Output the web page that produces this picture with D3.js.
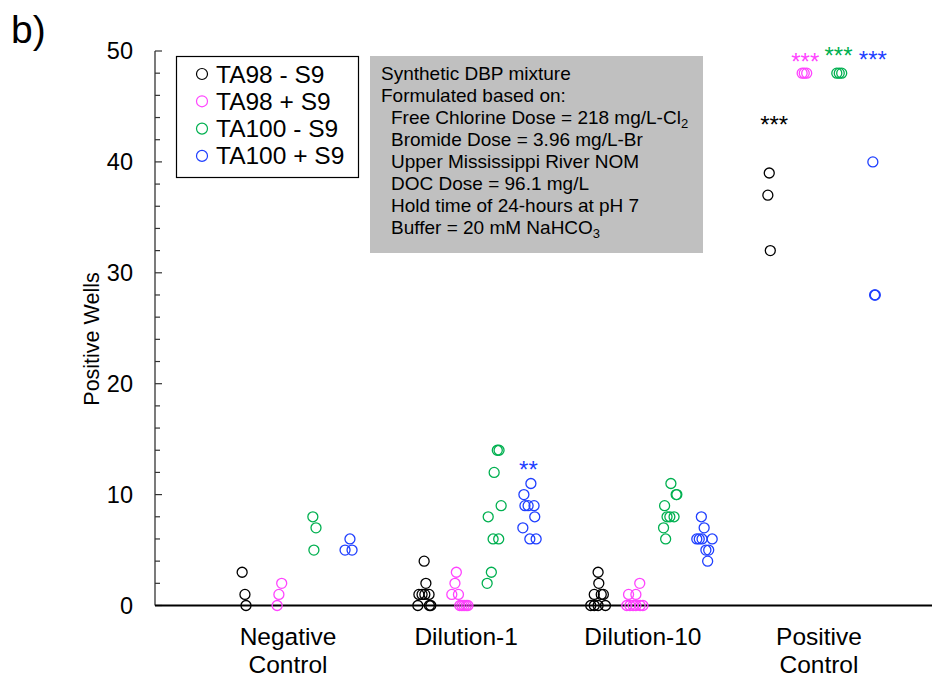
<!DOCTYPE html>
<html>
<head>
<meta charset="utf-8">
<script src="https://cdn.jsdelivr.net/npm/d3@7"></script>
<style>
  html, body { margin: 0; padding: 0; background: #fff; }
  svg { display: block; font-family: "Liberation Sans", Arial, sans-serif; }
</style>
</head>
<body>
<svg id="chart" width="932" height="678"></svg>
<script>
// ---------------- DATA ----------------
const categories = [["Negative", "Control"], ["Dilution-1"], ["Dilution-10"], ["Positive", "Control"]];
const seriesNames = ["TA98 - S9", "TA98 + S9", "TA100 - S9", "TA100 + S9"];
const seriesColors = ["#000000", "#ff44ff", "#00b050", "#1f3fff"];

// Positive wells per replicate, per category (Negative, Dilution-1, Dilution-10, Positive)
const ta98Minus = [
  [3, 1, 0],
  [4, 2, 1, 1, 1, 1, 0, 0, 0],
  [3, 2, 1, 1, 1, 0, 0, 0, 0],
  [39, 37, 32]
];
const ta98Plus = [
  [2, 1, 0],
  [3, 2, 1, 1, 0, 0, 0, 0, 0],
  [2, 1, 1, 0, 0, 0, 0, 0, 0],
  [48, 48, 48]
];
const ta100Minus = [
  [8, 7, 5],
  [14, 14, 12, 9, 8, 6, 6, 3, 2],
  [11, 10, 10, 9, 8, 8, 8, 7, 6],
  [48, 48, 48]
];
const ta100Plus = [
  [6, 5, 5],
  [11, 10, 9, 9, 9, 8, 7, 6, 6],
  [8, 7, 6, 6, 6, 6, 5, 5, 4],
  [40, 28, 28]
];
// horizontal jitter of each replicate (in group-slot units)
const ta98MinusJitter = [
  [-0.11, -0.03, 0.00],
  [0.09, 0.14, -0.06, 0.03, 0.11, 0.23, -0.09, 0.24, 0.28],
  [0.06, 0.08, -0.05, 0.15, 0.21, -0.15, -0.05, 0.06, 0.27],
  [-0.05, -0.09, -0.02]
];
const ta98PlusJitter = [
  [0.02, -0.06, -0.11],
  [0.01, -0.03, -0.12, 0.07, 0.11, 0.17, 0.23, 0.29, 0.34],
  [0.25, -0.07, 0.14, -0.12, -0.03, 0.06, 0.14, 0.26, 0.34],
  [-0.11, -0.05, 0.02]
];
const ta100MinusJitter = [
  [-0.09, 0.00, -0.06],
  [0.18, 0.23, 0.09, 0.29, -0.08, 0.06, 0.22, 0.01, -0.11],
  [0.14, 0.29, 0.31, -0.04, 0.03, 0.11, 0.23, -0.07, -0.01],
  [-0.12, -0.05, 0.02]
];
const ta100PlusJitter = [
  [-0.03, -0.17, 0.03],
  [0.14, -0.06, -0.03, 0.06, 0.23, 0.25, -0.09, 0.11, 0.29],
  [0.01, 0.09, -0.12, -0.05, 0.03, 0.32, 0.14, 0.22, 0.19],
  [-0.09, -0.04, -0.02]
];
const seriesValues = [ta98Minus, ta98Plus, ta100Minus, ta100Plus];
const seriesJitter = [ta98MinusJitter, ta98PlusJitter, ta100MinusJitter, ta100PlusJitter];

// significance markers: [category, series, value, jitter, label]
const sigMarks = [
  [1, 3, 12.5, 0.07, "**"],
  [3, 0, 43.6, 0.09, "***"],
  [3, 1, 49.3, -0.02, "***"],
  [3, 2, 49.8, -0.07, "***"],
  [3, 3, 49.5, -0.09, "***"]
];

const yTickLabels = [0, 10, 20, 30, 40, 50];
const yMinorTicks = d3.range(0, 51, 2);
const categoryLabelOffsets = [1.2, 1.29, 1.34, 1.37];

const noteLines = [
  {t: "Synthetic DBP mixture", indent: 0},
  {t: "Formulated based on:", indent: 0},
  {t: "Free Chlorine Dose = 218 mg/L-Cl", sub: "2", indent: 1},
  {t: "Bromide Dose = 3.96 mg/L-Br", indent: 1},
  {t: "Upper Mississippi River NOM", indent: 1},
  {t: "DOC Dose = 96.1 mg/L", indent: 1},
  {t: "Hold time of 24-hours at pH 7", indent: 1},
  {t: "Buffer = 20 mM NaHCO", sub: "3", indent: 1}
];

// ---------------- CHART ----------------
const svg = d3.select("#chart");
svg.append("rect").attr("width", 932).attr("height", 678).attr("fill", "#fff");

const slotsPerCat = 5;
const x = d3.scaleLinear().domain([-2.6, 19.6]).range([155, 932]);
const y = d3.scaleLinear().domain([0, 50]).range([605.5, 51]);
const pos = (c, s, j) => x(slotsPerCat * c + s + j);

// panel label
svg.append("text").attr("x", 11).attr("y", 43).attr("font-size", 39).text("b)");

// y axis line
svg.append("line").attr("x1", x(-2.6)).attr("x2", x(-2.6)).attr("y1", y(50)).attr("y2", y(0))
  .attr("stroke", "#333").attr("stroke-width", 1.3);
// ticks (inward)
svg.append("g").selectAll("line").data(yMinorTicks).join("line")
  .attr("x1", x(-2.6)).attr("x2", d => x(-2.6) + (d % 10 === 0 ? 7 : 5))
  .attr("y1", d => y(d)).attr("y2", d => y(d))
  .attr("stroke", "#333").attr("stroke-width", 1.2);
// tick labels
svg.append("g").selectAll("text").data(yTickLabels).join("text")
  .attr("x", 133).attr("y", d => y(d)).attr("dy", "0.35em")
  .attr("text-anchor", "end").attr("font-size", 23.5).text(d => d);

// x axis line
svg.append("line").attr("x1", x(-2.6)).attr("x2", x(19.6)).attr("y1", y(0)).attr("y2", y(0))
  .attr("stroke", "#000").attr("stroke-width", 2);

// y label
svg.append("text").attr("transform", "translate(99,339) rotate(-90)")
  .attr("text-anchor", "middle").attr("font-size", 21.5).text("Positive Wells");

// category labels
categories.forEach((lines, c) => {
  const t = svg.append("text").attr("text-anchor", "middle").attr("font-size", 24.5);
  lines.forEach((ln, i) => {
    t.append("tspan").attr("x", pos(c, categoryLabelOffsets[c], 0)).attr("y", 645 + 28 * i).text(ln);
  });
});

// points
seriesValues.forEach((vals, s) => {
  const pts = [];
  vals.forEach((arr, c) => arr.forEach((v, k) => pts.push({c, v, j: seriesJitter[s][c][k]})));
  svg.append("g").selectAll("circle").data(pts).join("circle")
    .attr("cx", d => pos(d.c, s, d.j)).attr("cy", d => y(d.v)).attr("r", 5)
    .attr("fill", "none").attr("stroke", seriesColors[s]).attr("stroke-width", 1.3);
});

// significance asterisks
svg.append("g").selectAll("text").data(sigMarks).join("text")
  .attr("x", d => pos(d[0], d[1], d[3])).attr("y", d => y(d[2]) + 11)
  .attr("text-anchor", "middle").attr("font-size", 24)
  .attr("fill", d => seriesColors[d[1]]).text(d => d[4]);

// legend
const lg = svg.append("g");
lg.append("rect").attr("x", 176.5).attr("y", 56.5).attr("width", 182).attr("height", 121)
  .attr("fill", "#fff").attr("stroke", "#000").attr("stroke-width", 1.2);
seriesNames.forEach((n, i) => {
  lg.append("circle").attr("cx", 202).attr("cy", 74 + 27.3 * i).attr("r", 5.5)
    .attr("fill", "none").attr("stroke", seriesColors[i]).attr("stroke-width", 1.2);
  lg.append("text").attr("x", 216).attr("y", 74 + 27.3 * i + 8.5).attr("font-size", 24.5).text(n);
});

// note box
const nb = svg.append("g");
nb.append("rect").attr("x", 370).attr("y", 56).attr("width", 333).attr("height", 197).attr("fill", "#c0c0c0");
noteLines.forEach((ln, i) => {
  const t = nb.append("text").attr("x", 381 + ln.indent * 10).attr("y", 80 + 22 * i).attr("font-size", 19);
  t.append("tspan").text(ln.t);
  if (ln.sub) t.append("tspan").attr("font-size", 13).attr("dy", 4).text(ln.sub);
});
</script>
</body>
</html>
